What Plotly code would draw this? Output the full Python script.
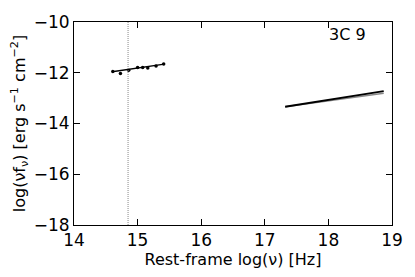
import plotly.graph_objects as go

# Optical/UV photometry
opt_x = [14.61, 14.73, 14.86, 15.00, 15.08, 15.16, 15.29, 15.41]
opt_y = [-11.95, -12.03, -11.90, -11.79, -11.79, -11.81, -11.73, -11.66]
# Optical power-law fit
opt_fit_x = [14.60, 15.42]
opt_fit_y = [-11.96, -11.66]
# X-ray power-law models
xray_x = [17.32, 18.87]
xray_black_y = [-13.34, -12.72]
xray_grey_y = [-13.34, -12.81]
# Dotted reference frequency
ref_freq = 14.85

x_ticks = [14, 15, 16, 17, 18, 19]
y_ticks = [-10, -12, -14, -16, -18]

FONT = "DejaVu Sans"

fig = go.Figure()
fig.add_trace(go.Scatter(x=opt_fit_x, y=opt_fit_y, mode="lines",
                         line=dict(color="black", width=1.5), showlegend=False))
fig.add_trace(go.Scatter(x=opt_x, y=opt_y, mode="markers",
                         marker=dict(color="black", size=3.5), showlegend=False))
fig.add_trace(go.Scatter(x=xray_x, y=xray_grey_y, mode="lines",
                         line=dict(color="#888888", width=1.5), showlegend=False))
fig.add_trace(go.Scatter(x=xray_x, y=xray_black_y, mode="lines",
                         line=dict(color="black", width=1.8), showlegend=False))
fig.add_vline(x=ref_freq, line=dict(color="#888888", width=1, dash="1px,1px"))

fig.add_annotation(text="3C 9", x=0.86, y=0.94, xref="paper", yref="paper",
                   showarrow=False, font=dict(family=FONT, size=16, color="black"),
                   xanchor="center", yanchor="middle")

axis_common = dict(showgrid=False, zeroline=False, showline=True, linecolor="black",
                   linewidth=1, mirror="ticks", ticks="inside", ticklen=6,
                   tickcolor="black", tickfont=dict(family=FONT, size=17, color="black"))
fig.update_xaxes(range=[14, 19], tickvals=x_ticks,
                 title=dict(text="Rest-frame log(ν) [Hz]",
                            font=dict(family=FONT, size=16, color="black"), standoff=2),
                 **axis_common)
fig.update_yaxes(range=[-18, -10], tickvals=y_ticks,
                 title=dict(text="log(νf<sub>ν</sub>) [erg s<sup>−1</sup> cm<sup>−2</sup>]",
                            font=dict(family=FONT, size=16, color="black"), standoff=4),
                 **axis_common)
fig.update_layout(width=415, height=277, margin=dict(l=74, r=21, t=16, b=52),
                  plot_bgcolor="white", paper_bgcolor="white",
                  font=dict(family=FONT, color="black"))
fig.write_html("out.html", config={"displayModeBar": False},
               post_script="document.body.style.margin='0';document.body.style.overflow='hidden';")
